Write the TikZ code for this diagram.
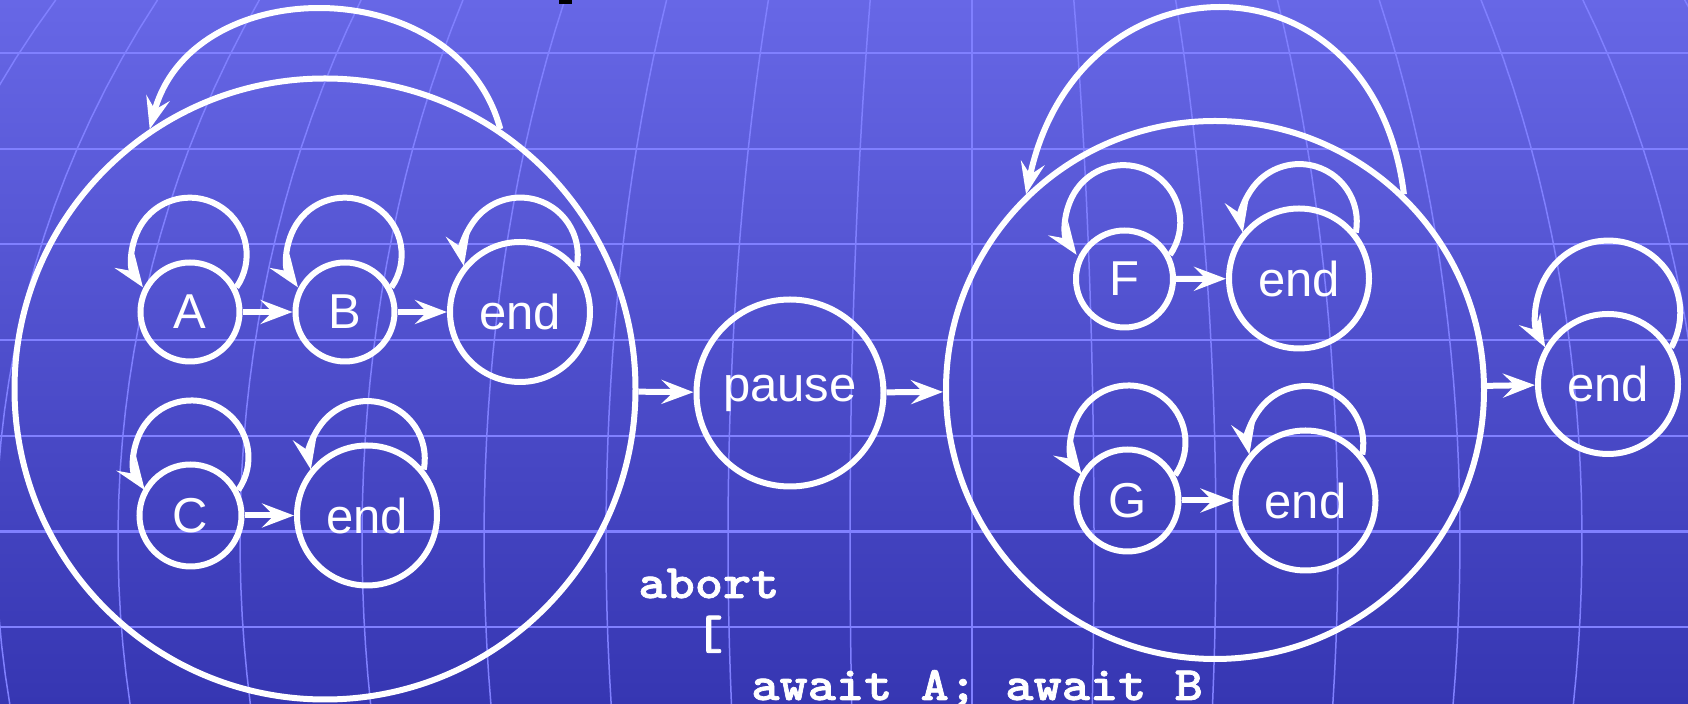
\documentclass[tikz,border=0pt]{standalone}
\usepackage{fontspec}
\usepackage{tikz}
\usetikzlibrary{arrows.meta, calc, positioning}
\newfontfamily\labelfont{Liberation Sans}
\newfontfamily\codefont{lmmonolt10-bold.otf}[FakeStretch=1.12, FakeBold=1.5]
\definecolor{slidetop}{RGB}{103,103,230}
\definecolor{slidebottom}{RGB}{54,54,178}
\definecolor{gridblue}{RGB}{128,128,255}

\begin{document}
\begin{tikzpicture}[x=0.5pt, y=-0.5pt,
    state/.style={circle, draw=white, line width=3pt, inner sep=0pt, text=white,
      font=\labelfont\fontsize{24.5}{29}\selectfont},
    trans/.style={-{Stealth[length=16pt, width=12pt, inset=6pt]}, white, line width=3pt},
    codeline/.style={anchor=base west, inner sep=0pt, text=white,
      font=\codefont\fontsize{24}{28}\selectfont},
    gridline/.style={gridblue, line width=0.75pt}]
	\useasboundingbox (0,0) rectangle (1688,704);
	
	% Slide background
	\shade[top color=slidetop, bottom color=slidebottom] (0,0) rectangle (1688,704);
	\begin{scope}
		\clip (0,0) rectangle (1688,704);
		\foreach \j in {0,...,6}
			\draw[gridline, line width=1.1pt] (0,53+95.7*\j) -- (1688,53+95.7*\j);
		\foreach \k in {-9,...,7}
			\draw[gridline] plot[domain=0:704, samples=25, variable=\t] ({972+\k*122*sqrt(1-((\t-540)/980)^2)},\t);
	\end{scope}
	\fill[black] (559,0) rectangle (572,4.5); % cut-off mark
	
	% Left parallel block
	\node[state, minimum size=310.5pt] (bigL) at (325,389) {};
	\node[state, minimum size=49.5pt] (A) at (190,312) {A};
	\node[state, minimum size=49.5pt] (B) at (345,312) {B};
	\node[state, minimum size=70pt] (endAB) at (520,312) {end};
	\node[state, minimum size=51pt] (C) at (190.5,515.5) {C};
	\node[state, minimum size=70pt] (endC) at (367,515.5) {end};
	
	% Middle
	\node[state, minimum size=93.5pt] (pause) at (790,393) {pause};
	
	% Right parallel block
	\node[state, minimum size=269pt] (bigR) at (1215,390) {};
	\node[state, minimum size=48.5pt] (F) at (1124.5,279) {F};
	\node[state, minimum size=70pt] (endF) at (1299,278.5) {end};
	\node[state, minimum size=51pt] (G) at (1127.5,500.5) {G};
	\node[state, minimum size=70pt] (endG) at (1305.5,500.5) {end};
	
	\node[state, minimum size=70pt] (endR) at (1608,384) {end};
	
	% Transitions
	\draw[trans] (A) -- (B);
	\draw[trans] (B) -- (endAB);
	\draw[trans] (C) -- (endC);
	\draw[trans] (F) -- (endF);
	\draw[trans] (G) -- (endG);
	\draw[trans] (bigL) -- (pause);
	\draw[trans] (pause) -- (bigR);
	\draw[trans] (bigR) -- (endR);
	
	% Self loops
	\foreach \s in {A,B,C,F,G}
		\draw[trans] (\s.28) arc[start angle=35, end angle=-215, radius=57];
	\foreach \s in {endAB,endC,endF,endG}
		\draw[trans] (\s.39) arc[start angle=11, end angle=-191, radius=57.5];
	\draw[trans] (endR.30) arc[start angle=29, end angle=-209, radius=72];
	\draw[trans] (bigL.56) to[out=105, in=75, looseness=1.2] (bigL.124);
	\draw[trans] (bigR.46) to[out=97, in=78, looseness=1.7] (bigR.134);
	
	% Program text
	\node[codeline] (codeA) at (638,598) {abort};
	\node[codeline] (codeB) at (638,649) {\hphantom{ab}[};
	\node[codeline] (codeC) at (638,700) {\hphantom{abcd}await A; await B};
\end{tikzpicture}
\end{document}
